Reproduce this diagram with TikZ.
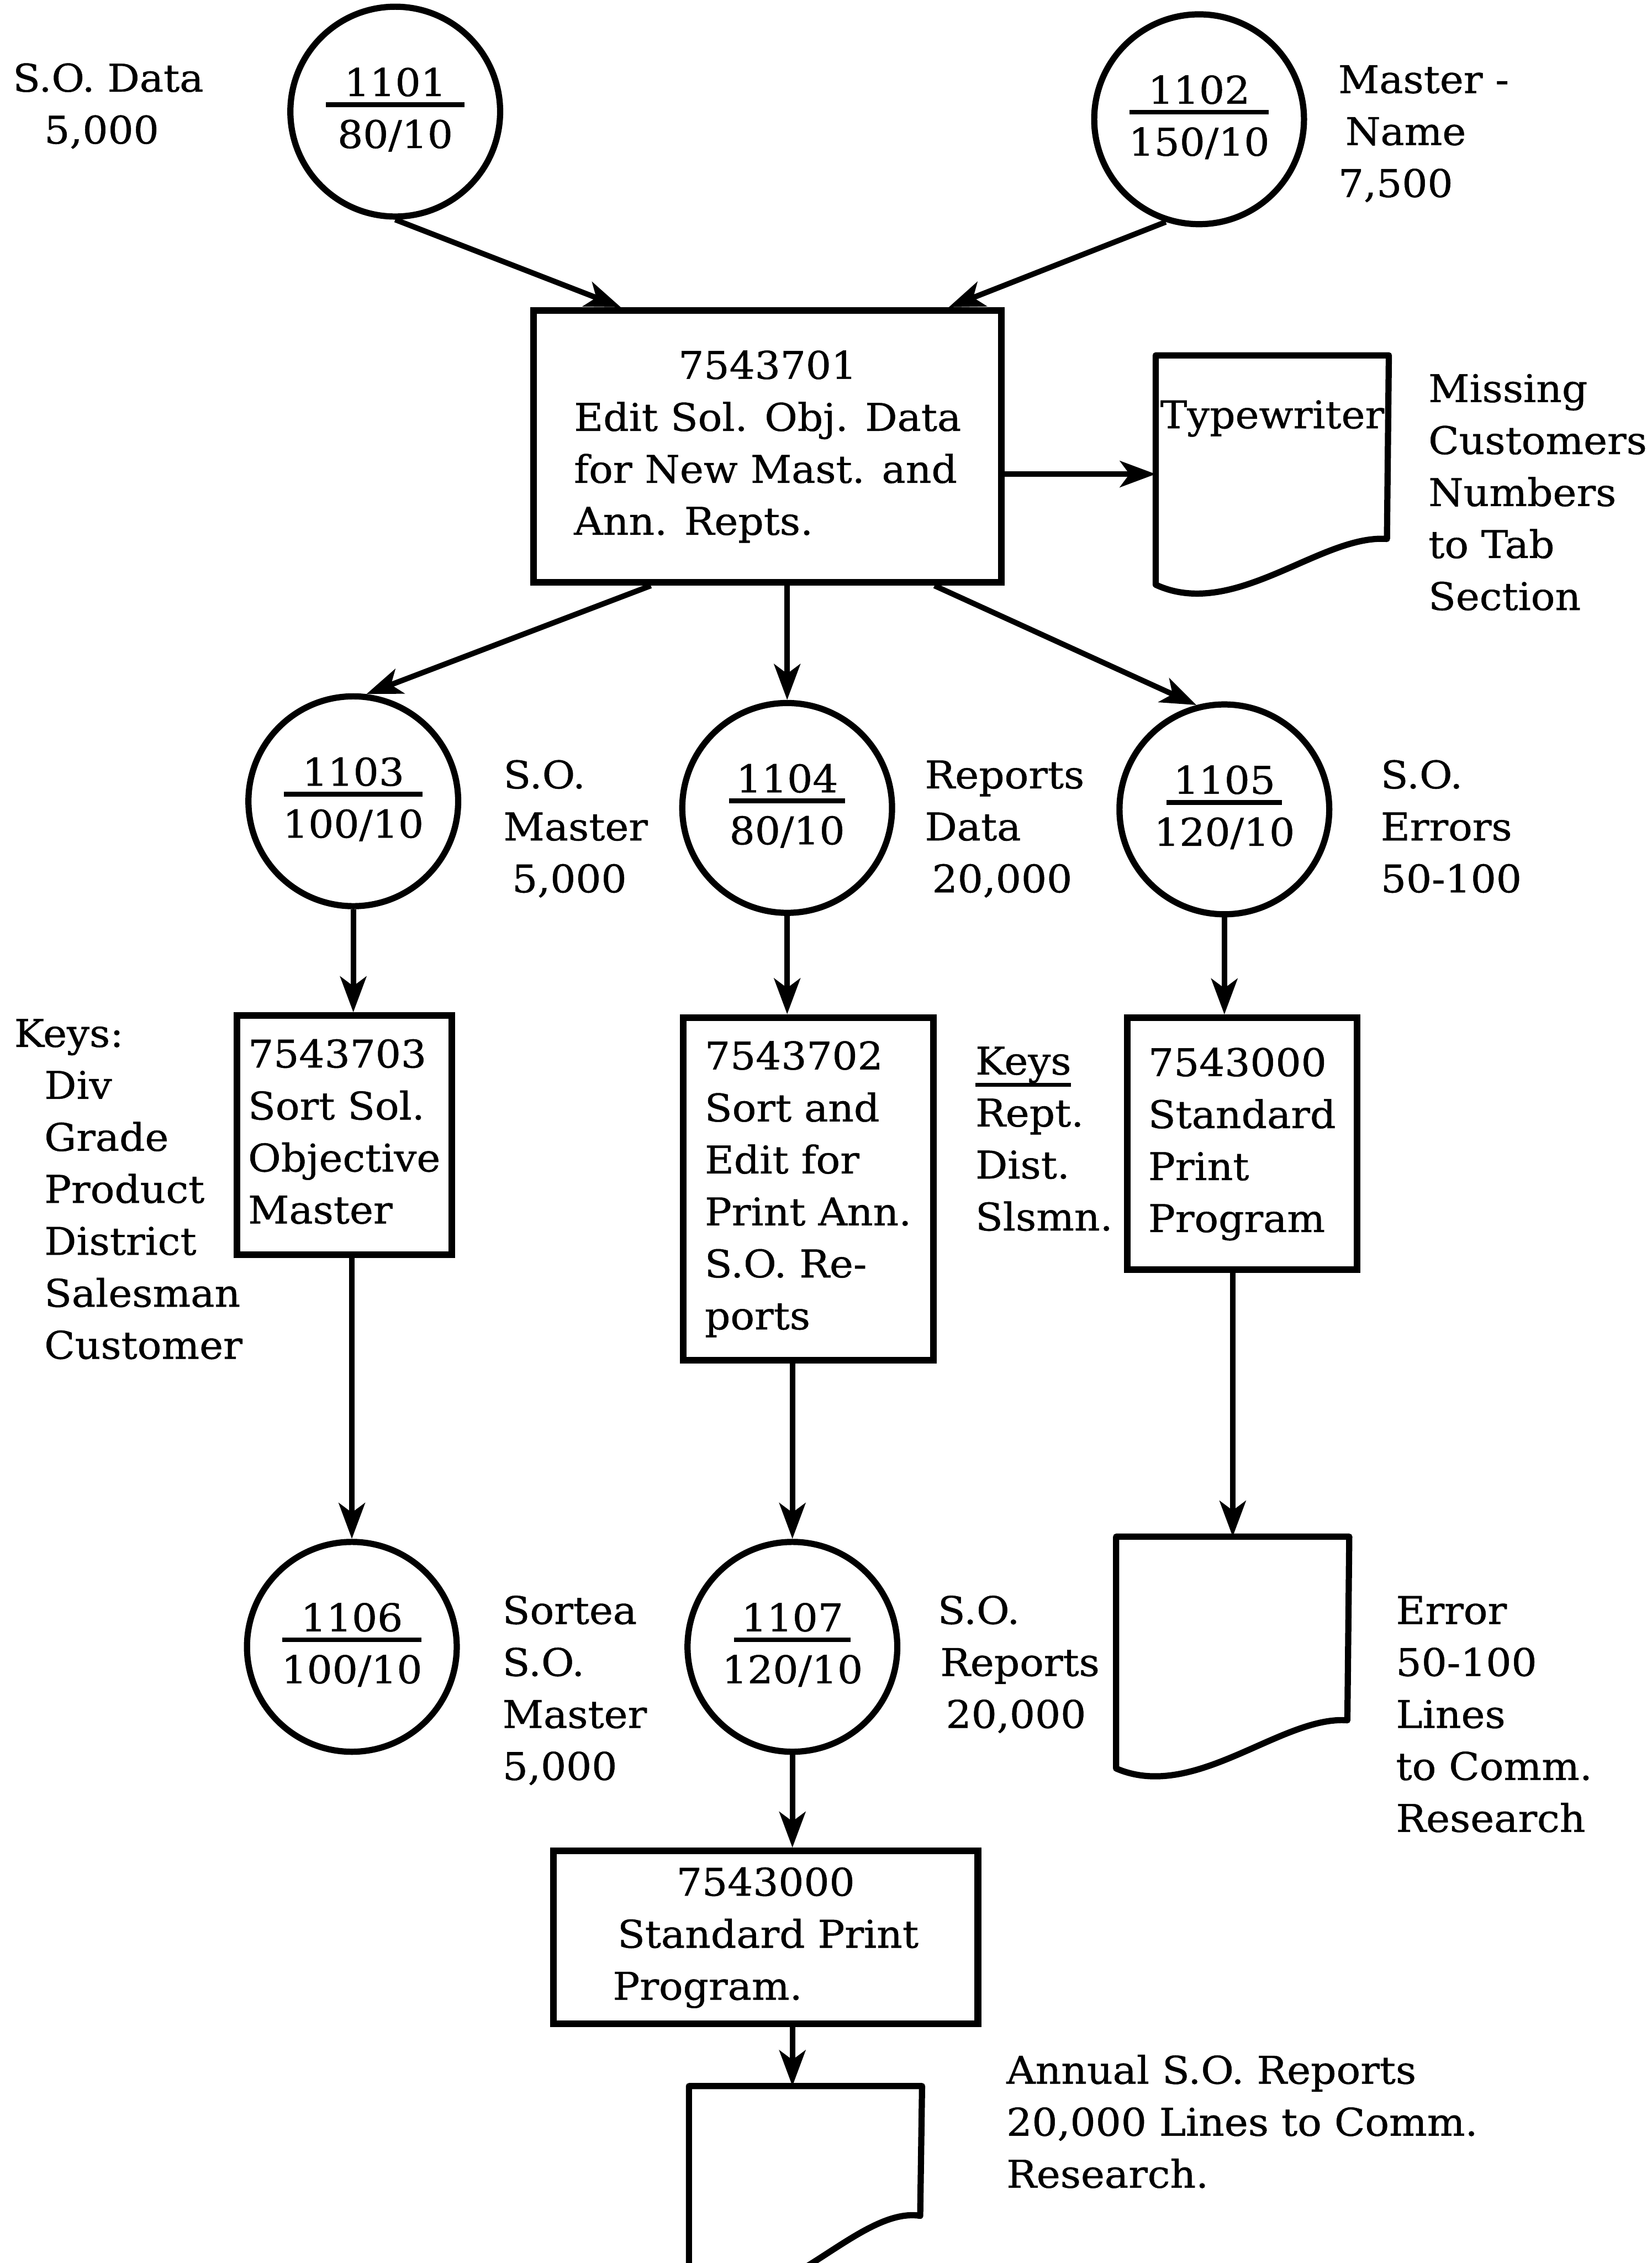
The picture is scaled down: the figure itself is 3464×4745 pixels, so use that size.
\documentclass[tikz,border=0pt]{standalone}
\usepackage{fontspec}
\setmainfont{DejaVu Serif}[FakeStretch=1.05,FakeBold=0.7]
\usetikzlibrary{arrows.meta,calc}
\newcommand\lns[1]{\begin{tabular}[t]{@{}l@{}}#1\end{tabular}}
\newcommand\blk[1]{\begin{tabular}{@{}l@{}}#1\end{tabular}}
\newcommand\fid[3]{\begin{tabular}{@{}c@{}}\makebox[#3][c]{#1}\llap{\rule[-2.3pt]{#3}{1pt}}\\#2\end{tabular}}
\newcommand\ulk[1]{\setbox0=\hbox{#1}\rlap{\rule[-2.6pt]{\wd0}{0.9pt}}\box0}
\newcommand\docshape[5]{\draw[docline] (#1.north west) -- (#1.north east) -- ($(#1.north west)+(485,#5)$) .. controls ($(#1.north west)+(346,#4)$) and ($(#1.north west)+(164,#3)$) .. ($(#1.north west)+(0,#2)$) -- cycle;}
\begin{document}
\begin{tikzpicture}[x=0.1pt,y=-0.1pt,
  every node/.style={font=\fontsize{8}{10.9}\selectfont, inner sep=0pt},
  filec/.style={circle, draw, line width=1.3pt, minimum size=44pt},
  procbox/.style={rectangle, draw, line width=1.4pt},
  docbox/.style={rectangle, minimum width=48.5pt, anchor=north west},
  docline/.style={line width=1.3pt, line join=round},
  arr/.style={line width=1.15pt, -{Stealth[length=7.5pt,width=5.5pt,inset=2pt]}},
  lbl/.style={anchor=base west}]
\clip (0,0) rectangle (3464,4745);
% top row
\node[filec] (c1101) at (829,234) {\fid{1101}{80/10}{29.1pt}};
\node[filec] (c1102) at (2515,250) {\fid{1102}{150/10}{29.1pt}};
\node[lbl] (l1) at (25,192) {\lns{S.O. Data\\\hspace*{6.6pt}5,000}};
\node[lbl] (l2) at (2805,195) {\lns{Master -\\\hspace*{1.5pt}Name\\7,500}};
% main edit box
\node[procbox, minimum width=98.1pt, minimum height=57pt] (b1) at (1610,936)
  {\blk{\multicolumn{1}{@{}c@{}}{7543701}\\Edit Sol. Obj. Data\\for New Mast. and\\Ann. Repts.}};
% typewriter document
\node[docbox, minimum height=38.5pt] (tw) at (2424,745) {};
\docshape{tw}{481}{557}{375}{385}
\node[anchor=base] (twt) at ($(tw.north)+(0,153)$) {Typewriter};
\node[lbl] (l3) at (2994,843) {\lns{Missing\\Customers\\Numbers\\to Tab\\Section}};
% second row of files
\node[filec] (c1103) at (741,1680) {\fid{1103}{100/10}{29.1pt}};
\node[filec] (c1104) at (1651,1694) {\fid{1104}{80/10}{24.4pt}};
\node[filec] (c1105) at (2568,1697) {\fid{1105}{120/10}{24.2pt}};
\node[lbl] (l4) at (1054,1653) {\lns{S.O.\\Master\\\hspace*{1.8pt}5,000}};
\node[lbl] (l5) at (1938,1653) {\lns{Reports\\Data\\\hspace*{1.5pt}20,000}};
\node[lbl] (l6) at (2894,1653) {\lns{S.O.\\Errors\\50-100}};
% third row of programs
\node[procbox, minimum width=45.1pt, minimum height=50.1pt] (b3) at (722,2380)
  {\blk{7543703\\Sort Sol.\\Objective\\Master}};
\node[procbox, minimum width=52.5pt, minimum height=71.9pt] (b2) at (1695,2493)
  {\blk{7543702\\Sort and\\Edit for\\Print Ann.\\S.O. Re-\\ports}};
\node[procbox, minimum width=48.2pt, minimum height=52.8pt] (b4) at (2605,2398)
  {\blk{7543000\\Standard\\Print\\Program}};
\node[lbl] (l7) at (28,2195) {\lns{Keys:\\\hspace*{6.3pt}Div\\\hspace*{6.3pt}Grade\\\hspace*{6.3pt}Product\\\hspace*{6.3pt}District\\\hspace*{6.3pt}Salesman\\\hspace*{6.3pt}Customer}};
\node[lbl] (l8) at (2044,2253) {\lns{\ulk{Keys}\\Rept.\\Dist.\\Slsmn.}};
% fourth row
\node[filec] (c1106) at (738,3453) {\fid{1106}{100/10}{29.1pt}};
\node[filec] (c1107) at (1662,3453) {\fid{1107}{120/10}{24.4pt}};
\node[docbox, minimum height=38.5pt] (ed) at (2341,3222) {};
\docshape{ed}{486}{557}{375}{385}
\node[lbl] (l9) at (1052,3405) {\lns{Sortea\\S.O.\\Master\\5,000}};
\node[lbl] (l10) at (1965,3405) {\lns{S.O.\\\hspace*{0.5pt}Reports\\\hspace*{1.7pt}20,000}};
\node[lbl] (l11) at (2926,3405) {\lns{Error\\50-100\\Lines\\to Comm.\\Research}};
% bottom
\node[procbox, minimum width=89pt, minimum height=36.2pt] (b5) at (1606,4062)
  {\blk{\multicolumn{1}{@{}c@{}}{7543000}\\\hspace*{1pt}Standard Print\\Program.}};
\node[docbox, minimum height=27.2pt] (bd) at (1445,4374) {};
\docshape{bd}{420}{520}{250}{272}
\node[lbl] (l12) at (2109,4369) {\lns{Annual S.O. Reports\\20,000 Lines to Comm.\\Research.}};
% connectors
\draw[arr] (c1101.south) -- ([xshift=-30.8pt]b1.north);
\draw[arr] (c1102.252) -- ([xshift=38pt]b1.north);
\draw[arr] ([yshift=-5.8pt]b1.east) -- ([yshift=-5.8pt]b1.east -| tw.west);
\draw[arr] ([xshift=-24.5pt]b1.south) -- (c1103.83);
\draw[arr] (b1.south -| c1104.north) -- (c1104.north);
\draw[arr] ([xshift=35pt]b1.south) -- (c1105.105);
\draw[arr] (c1103.south) -- (c1103.south |- b3.north);
\draw[arr] (b3.south -| c1106.north) -- (c1106.north);
\draw[arr] (c1104.south) -- (c1104.south |- b2.north);
\draw[arr] (b2.south -| c1107.north) -- (c1107.north);
\draw[arr] (c1107.south) -- (c1107.south |- b5.north);
\draw[arr] (c1107.south |- b5.south) -- (c1107.south |- bd.north);
\draw[arr] (c1105.south) -- (c1105.south |- b4.north);
\draw[arr] (ed.north |- b4.south) -- (ed.north);
\end{tikzpicture}
\end{document}
